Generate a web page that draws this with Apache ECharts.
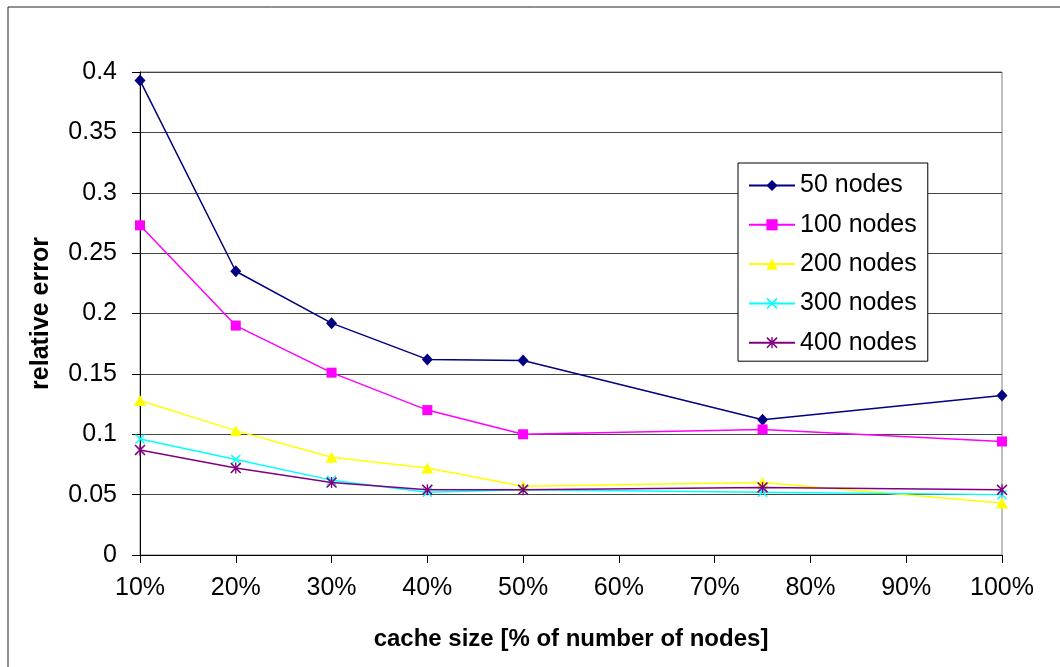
<!DOCTYPE html>
<html>
<head>
<meta charset="utf-8">
<script src="https://cdn.jsdelivr.net/npm/echarts@6/dist/echarts.min.js"></script>
<style>
  html, body { margin: 0; padding: 0; background: #fff; }
  #chart { width: 1060px; height: 667px; }
</style>
</head>
<body>
<div id="chart"></div>
<script>
// Cache size (% of number of nodes) at which the error was measured
const cacheSize = [10, 20, 30, 40, 50, 75, 100];

// Relative error per network size
const nodes50  = [0.393, 0.235, 0.192, 0.162, 0.161, 0.112, 0.132];
const nodes100 = [0.273, 0.190, 0.151, 0.120, 0.100, 0.104, 0.094];
const nodes200 = [0.128, 0.103, 0.081, 0.072, 0.057, 0.060, 0.043];
const nodes300 = [0.096, 0.079, 0.062, 0.052, 0.054, 0.052, 0.050];
const nodes400 = [0.087, 0.072, 0.060, 0.054, 0.054, 0.056, 0.054];

const seriesNames = ['50 nodes', '100 nodes', '200 nodes', '300 nodes', '400 nodes'];

// Marker shapes: diamond, square, triangle, cross, asterisk
const CROSS = 'path://M0,1L1,0L5,4L9,0L10,1L6,5L10,9L9,10L5,6L1,10L0,9L4,5Z';
const STAR = 'path://M0,1L1,0L5,4L9,0L10,1L6,5L10,9L9,10L5,6L1,10L0,9L4,5Z M4.4,0L5.6,0L5.6,10L4.4,10Z';

const styles = [
  { color: '#000080', symbol: 'diamond',  size: [11, 12] },
  { color: '#FF00FF', symbol: 'rect',     size: 10 },
  { color: '#FFFF00', symbol: 'triangle', size: [12, 11] },
  { color: '#00FFFF', symbol: CROSS,      size: 10 },
  { color: '#800080', symbol: STAR,       size: 11 }
];

const values = [nodes50, nodes100, nodes200, nodes300, nodes400];

const FONT = "'Liberation Sans', Arial, sans-serif";

const chart = echarts.init(document.getElementById('chart'), null, { renderer: 'canvas' });

chart.setOption({
  animation: false,
  backgroundColor: '#ffffff',
  graphic: [{
    type: 'rect',
    shape: { x: 8, y: 7, width: 1070, height: 680 },
    style: { fill: 'none', stroke: '#222', lineWidth: 1 },
    silent: true,
    z: 0
  }],
  grid: {
    left: 140, right: 58, top: 72, bottom: 112,
    show: true, borderColor: '#808080', borderWidth: 1,
    containLabel: false
  },
  legend: {
    orient: 'vertical',
    left: 738, top: 163,
    padding: [10, 11, 6, 10],
    itemGap: 14.3,
    itemWidth: 46, itemHeight: 14,
    borderColor: '#000', borderWidth: 1,
    backgroundColor: '#fff',
    textStyle: { fontFamily: FONT, fontSize: 25, color: '#000', lineHeight: 25 },
    data: seriesNames
  },
  xAxis: {
    type: 'value',
    min: 10, max: 100, interval: 10,
    name: 'cache size [% of number of nodes]',
    nameLocation: 'middle',
    nameGap: 72,
    nameTextStyle: { fontFamily: FONT, fontSize: 24, fontWeight: 'bold', color: '#000' },
    axisLine: { show: true, onZero: false, lineStyle: { color: '#000', width: 1 } },
    axisTick: { show: true, inside: false, length: 8, lineStyle: { color: '#000' } },
    axisLabel: { margin: 21, fontFamily: FONT, fontSize: 25, color: '#000', formatter: '{value}%' },
    splitLine: { show: false }
  },
  yAxis: {
    type: 'value',
    min: 0, max: 0.4, interval: 0.05,
    name: 'relative error',
    nameLocation: 'middle',
    nameGap: 86,
    nameRotate: 90,
    nameTextStyle: { fontFamily: FONT, fontSize: 25, fontWeight: 'bold', color: '#000' },
    axisLine: { show: true, lineStyle: { color: '#000', width: 1 } },
    axisTick: { show: true, inside: false, length: 8, lineStyle: { color: '#000' } },
    axisLabel: { margin: 23, fontFamily: FONT, fontSize: 25, color: '#000' },
    splitLine: { show: true, lineStyle: { color: '#444', width: 1 } }
  },
  series: seriesNames.map((name, i) => ({
    name: name,
    type: 'line',
    data: cacheSize.map((x, j) => [x, values[i][j]]),
    symbol: styles[i].symbol,
    symbolSize: styles[i].size,
    showSymbol: true,
    lineStyle: { color: styles[i].color, width: 1.5 },
    itemStyle: { color: styles[i].color },
    z: 2 + i
  }))
});
</script>
</body>
</html>
